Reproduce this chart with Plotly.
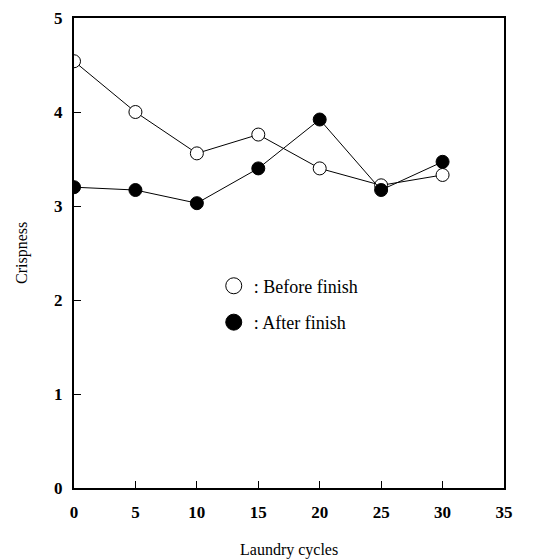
import plotly.graph_objects as go

cycles = [0, 5, 10, 15, 20, 25, 30]
before_finish = [4.54, 4.0, 3.56, 3.76, 3.40, 3.22, 3.33]
after_finish = [3.20, 3.17, 3.03, 3.40, 3.92, 3.17, 3.47]
x_ticks = [0, 5, 10, 15, 20, 25, 30, 35]
y_ticks = [0, 1, 2, 3, 4, 5]

font_serif = "Liberation Serif"

fig = go.Figure()
fig.add_trace(go.Scatter(
    x=cycles, y=before_finish, mode="lines+markers", showlegend=False,
    line=dict(color="black", width=1),
    marker=dict(symbol="circle", size=13, color="white", line=dict(color="black", width=1)),
))
fig.add_trace(go.Scatter(
    x=cycles, y=after_finish, mode="lines+markers", showlegend=False,
    line=dict(color="black", width=1),
    marker=dict(symbol="circle", size=13, color="black", line=dict(color="black", width=1)),
))
# legend entries
fig.add_trace(go.Scatter(
    x=[None], y=[None], mode="markers", name=": Before finish", legendgroup="a",
    marker=dict(symbol="circle", size=16, color="white", line=dict(color="black", width=1)),
))
fig.add_trace(go.Scatter(
    x=[None], y=[None], mode="markers", name=": After finish", legendgroup="b",
    marker=dict(symbol="circle", size=16, color="black", line=dict(color="black", width=1)),
))

tick_font = dict(family=font_serif, size=17, color="black", weight="bold")
axis_common = dict(
    showline=True, linecolor="black", linewidth=2, mirror=True,
    showgrid=False, zeroline=False, ticks="inside", ticklen=7, tickcolor="black",
    tickfont=tick_font, automargin=False, ticklabeloverflow="allow",
)

fig.update_layout(
    width=540, height=552,
    margin=dict(l=66, r=44, t=10, b=72),
    paper_bgcolor="white", plot_bgcolor="white",
    xaxis=dict(range=[0, 35], tickvals=x_ticks, ticklabelstandoff=8, **axis_common),
    yaxis=dict(range=[0, 5], tickvals=y_ticks, ticklabelstandoff=6, **axis_common),
    legend=dict(x=0.325, y=0.469, xanchor="left", yanchor="top",
                bgcolor="rgba(0,0,0,0)", font=dict(family=font_serif, size=18, color="black"),
                itemwidth=30, tracegroupgap=10),
    annotations=[
        dict(text="Laundry cycles", xref="paper", yref="paper", x=0.5, y=0,
             yshift=-62, xanchor="center", yanchor="middle", showarrow=False,
             font=dict(family=font_serif, size=16, color="black")),
        dict(text="Crispness", xref="paper", yref="paper", x=0, y=0.5,
             xshift=-52, xanchor="center", yanchor="middle", showarrow=False, textangle=-90,
             font=dict(family=font_serif, size=16, color="black")),
    ],
)

fig.write_html("out.html")
